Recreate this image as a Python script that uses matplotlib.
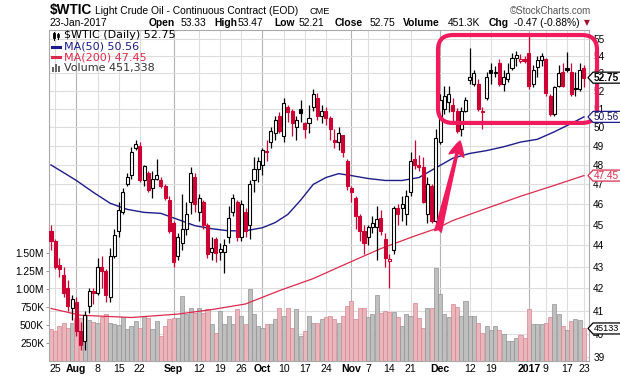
"""Recreate the StockCharts $WTIC daily candlestick chart (Jul 2016 - Jan 2017)."""

import numpy as np
import pandas as pd
import matplotlib
matplotlib.use("Agg")
import matplotlib.pyplot as plt
from matplotlib.patches import Polygon, FancyBboxPatch, Rectangle
from matplotlib.lines import Line2D
from matplotlib.ticker import NullLocator
from matplotlib.transforms import IdentityTransform, blended_transform_factory

W, H = 620, 376

# ---- data --------------------------------------------------------------
START, END = "2016-07-22", "2017-01-23"
HOLIDAYS = ["2016-09-05", "2016-11-24", "2016-12-26", "2017-01-02", "2017-01-16"]
PREV_CLOSE = 44.75

OPEN = [44.7, 44.2, 43.1, 42.6, 42.0, 41.1, 41.4, 40.1, 39.7, 41.2,
        41.9, 41.8, 43.0, 42.8, 41.6, 43.5, 44.7, 45.6, 47.0, 47.5,
        48.9, 49.0, 47.2, 47.6, 46.8, 47.3, 47.2, 46.9, 46.2, 45.1,
        43.5, 44.1, 44.8, 46.1, 47.4, 45.6, 46.1, 45.0, 43.7, 44.3,
        43.7, 43.7, 44.4, 45.6, 46.1, 44.4, 45.6, 45.0, 47.2, 47.8,
        48.0, 48.75, 49.2, 49.7, 50.6, 49.5, 51.1, 50.9, 50.0, 51.0,
        50.2, 50.2, 51.1, 51.6, 50.6, 50.9, 50.5, 49.3, 49.2, 49.6,
        48.2, 46.8, 46.3, 45.4, 44.7, 44.4, 44.9, 44.9, 45.3, 44.3,
        43.25, 43.8, 45.8, 45.8, 45.5, 46.6, 48.3, 48.0, 47.9, 45.5,
        46.9, 45.2, 49.2, 51.0, 51.4, 51.2, 50.9, 49.9, 50.9, 52.6,
        52.4, 52.4, 50.8, 51.6, 53.2, 53.0, 53.6, 52.4, 52.7, 53.3,
        53.9, 53.7, 53.8, 54.2, 52.4, 53.35, 53.75, 53.8, 51.7, 50.7,
        52.3, 53.05, 53.3, 53.1, 52.15, 52.1, 53.33]
HIGH = [45.0, 44.3, 43.4, 43.0, 42.4, 41.7, 41.6, 40.5, 41.0, 42.0,
        42.0, 43.4, 43.5, 42.9, 43.9, 44.8, 46.1, 46.8, 47.6, 48.95,
        49.3, 49.2, 48.0, 47.7, 47.7, 48.3, 47.4, 47.0, 46.4, 45.2,
        44.6, 46.5, 46.1, 47.9, 47.6, 46.5, 46.2, 45.1, 44.4, 44.4,
        44.1, 44.3, 45.9, 46.5, 46.2, 46.2, 45.8, 47.2, 48.4, 48.4,
        48.9, 49.3, 50.0, 50.6, 50.8, 51.6, 51.2, 51.0, 50.6, 51.5,
        50.3, 51.2, 52.1, 51.9, 51.2, 51.1, 50.6, 49.9, 50.0, 49.6,
        48.3, 46.9, 46.4, 45.5, 45.0, 45.0, 45.4, 45.9, 45.7, 44.6,
        43.6, 45.9, 46.0, 46.4, 46.7, 48.7, 49.3, 48.5, 48.4, 47.4,
        47.0, 49.9, 51.8, 52.3, 52.3, 51.6, 51.05, 51.1, 51.65, 54.45,
        53.2, 52.7, 51.1, 53.1, 53.6, 53.4, 53.8, 53.2, 53.6, 54.2,
        54.3, 54.1, 54.0, 55.2, 53.5, 54.0, 54.2, 53.9, 51.8, 52.3,
        53.5, 53.6, 54.25, 53.6, 53.1, 53.6, 53.47]
LOW = [43.8, 42.9, 42.5, 41.6, 41.0, 40.6, 39.9, 39.3, 39.3, 40.9,
       41.3, 41.7, 42.0, 41.4, 41.4, 43.4, 44.4, 45.5, 46.9, 47.3,
       48.8, 47.1, 46.9, 46.6, 46.3, 47.2, 46.8, 46.2, 44.6, 43.0,
       43.3, 43.8, 44.5, 45.5, 45.6, 45.2, 44.8, 43.4, 43.3, 43.2,
       43.3, 42.7, 44.1, 45.4, 44.2, 44.2, 44.4, 44.3, 46.6, 47.1,
       47.5, 48.2, 48.9, 49.3, 49.7, 49.2, 50.3, 49.5, 49.3, 50.3,
       49.4, 49.7, 50.9, 50.4, 50.2, 50.1, 49.3, 48.9, 48.8, 48.4,
       46.7, 46.1, 44.8, 44.2, 43.6, 44.0, 44.6, 43.3, 44.5, 43.0,
       42.0, 43.6, 45.0, 45.2, 45.0, 46.4, 47.8, 47.7, 46.05, 45.1,
       45.1, 45.1, 49.1, 50.7, 50.8, 50.3, 49.7, 49.55, 50.8, 52.4,
       52.3, 50.9, 49.9, 51.5, 52.4, 52.8, 52.3, 52.0, 52.5, 53.2,
       53.4, 53.6, 53.6, 52.1, 52.2, 52.8, 53.4, 51.7, 50.6, 50.6,
       52.2, 52.2, 53.1, 51.7, 51.7, 52.0, 52.21]
CLOSE = [44.2, 43.0, 42.9, 41.8, 41.2, 41.5, 40.1, 39.5, 40.8, 41.9,
         41.8, 43.0, 42.8, 41.7, 43.5, 44.5, 45.7, 46.6, 47.4, 48.7,
         49.1, 47.2, 47.95, 46.7, 47.3, 47.5, 46.9, 46.3, 44.7, 43.2,
         44.4, 44.8, 45.5, 47.6, 46.0, 46.3, 45.0, 43.6, 43.9, 43.65,
         43.85, 44.0, 45.3, 46.3, 44.4, 46.0, 44.7, 47.0, 47.8, 48.2,
         48.8, 48.7, 49.8, 50.4, 49.8, 51.3, 50.8, 50.2, 50.4, 50.75,
         49.9, 50.5, 51.8, 50.6, 50.9, 50.5, 49.9, 49.2, 49.7, 48.7,
         46.9, 46.6, 45.4, 44.7, 44.1, 44.9, 45.1, 45.25, 44.7, 43.4,
         43.35, 45.8, 45.5, 46.0, 46.4, 48.2, 48.0, 47.9, 46.1, 47.0,
         45.2, 49.4, 51.5, 51.7, 51.8, 50.9, 49.8, 50.9, 51.5, 52.8,
         53.0, 51.0, 50.9, 52.8, 53.0, 53.1, 52.4, 52.8, 53.0, 53.9,
         54.05, 53.8, 53.7, 52.3, 53.2, 53.75, 54.0, 51.9, 50.7, 52.2,
         53.0, 52.3, 53.2, 51.8, 52.1, 53.2, 52.75]
# volume in thousands of contracts
VOLUME_K = [444, 417, 486, 532, 463, 532, 601, 601, 625, 570,
            546, 532, 611, 649, 532, 510, 496, 611, 444, 486,
            556, 463, 625, 601, 444, 556, 347, 486, 579, 601,
            601, 903, 653, 740, 671, 740, 671, 718, 514, 393,
            694, 514, 625, 510, 718, 625, 510, 996, 649, 486,
            463, 510, 510, 579, 732, 625, 732, 463, 718, 347,
            417, 625, 532, 532, 583, 611, 625, 583, 532, 625,
            764, 833, 579, 736, 736, 604, 653, 917, 671, 694,
            681, 674, 611, 486, 653, 625, 810, 597, 463, 740,
            740, 1296, 935, 657, 611, 788, 750, 625, 833, 625,
            625, 532, 393, 486, 426, 486, 426, 371, 278, 278,
            324, 361, 315, 718, 510, 510, 510, 532, 611, 788,
            649, 486, 426, 556, 579, 565, 451.338]

# moving averages sampled along the chart (trading-day index, value)
MA50_IDX = [0, 3, 6, 10, 14, 18, 22, 26, 30, 34, 38, 42, 46, 50, 53, 56, 59, 62,
            65, 68, 71, 75, 79, 83, 87, 91, 95, 99, 103, 107, 111, 115, 119, 123, 126]
MA50_VAL = [48.0, 47.6, 47.2, 46.6, 46.05, 45.75, 45.6, 45.55, 45.25, 44.95, 44.8,
            44.7, 44.7, 44.85, 45.1, 45.5, 46.2, 47.0, 47.35, 47.55, 47.45, 47.3,
            47.2, 47.2, 47.35, 47.85, 48.35, 48.6, 48.75, 48.95, 49.2, 49.35,
            49.75, 50.2, 50.56]
MA200_IDX = [0, 7, 19, 30, 38, 46, 54, 62, 70, 78, 86, 91, 95, 103, 111, 119, 126]
MA200_VAL = [41.1, 40.8, 40.7, 40.85, 41.05, 41.3, 41.9, 42.45, 43.15, 43.85,
             44.45, 44.8, 45.2, 45.8, 46.4, 46.95, 47.45]

TICK_DATES = ["2016-07-25", "2016-08-01", "2016-08-08", "2016-08-15", "2016-08-22",
              "2016-09-01", "2016-09-12", "2016-09-19", "2016-09-26", "2016-10-03",
              "2016-10-10", "2016-10-17", "2016-10-24", "2016-11-01", "2016-11-07",
              "2016-11-14", "2016-11-21", "2016-12-01", "2016-12-12", "2016-12-19",
              "2017-01-03", "2017-01-09", "2017-01-17", "2017-01-23"]
TICK_LABELS = ["25", "Aug", "8", "15", "22", "Sep", "12", "19", "26", "Oct", "10",
               "17", "24", "Nov", "7", "14", "21", "Dec", "12", "19", "2017", "9",
               "17", "23"]
MONTH_LABELS = {"Aug", "Sep", "Oct", "Nov", "Dec", "2017"}

PRICE_TICKS = list(range(39, 56))
VOL_TICKS = [250e3, 500e3, 750e3, 1.0e6, 1.25e6, 1.5e6]
VOL_TICK_LABELS = ["250K", "500K", "750K", "1.00M", "1.25M", "1.50M"]

# ---- style ---------------------------------------------------------------
RED = "#cc0033"
BLUE = "#1c1c8c"
MA200_RED = "#dd2a4c"
PINK = "#f01a5c"
GRID = "#dddddd"
GRID_MONTH = "#b4b4b4"
FRAME = "#a8a8a8"

plt.rcParams["font.family"] = ["Liberation Sans", "DejaVu Sans"]


def px(x, y):
    """Pixel position (top-left origin) -> figure fraction."""
    return x / W, 1 - y / H


fig = plt.figure(figsize=(W / 100, H / 100), dpi=100, facecolor="white")
rect = [49 / W, 1 - 361 / H, 540 / W, 331.5 / H]
ax_v = fig.add_axes(rect)
ax = fig.add_axes(rect, sharex=ax_v)
ax.patch.set_visible(False)

dates = pd.bdate_range(START, END)
dates = dates[~dates.isin(pd.to_datetime(HOLIDAYS))]
idx = np.arange(len(dates))
o, h, l, c = map(np.asarray, (OPEN, HIGH, LOW, CLOSE))
assert len(o) == len(h) == len(l) == len(c) == len(VOLUME_K) == len(dates)

prev = np.concatenate([[PREV_CLOSE], c[:-1]])
down = c < prev
filled = c < o

# ---- axes setup ------------------------------------------------------------
ax_v.set_xlim(-0.47, 127.2)
ax_v.set_ylim(0, 4.6e6)
ax.set_yscale("log")
ax.set_ylim(38.83, 55.57)

tick_idx = [int(np.where(dates == pd.Timestamp(d))[0][0]) for d in TICK_DATES]
ax_v.set_xticks(tick_idx)
ax_v.set_xticklabels(TICK_LABELS)
for lab in ax_v.get_xticklabels():
    if lab.get_text() in MONTH_LABELS:
        lab.set_fontweight("bold")
ax_v.tick_params(axis="x", length=0, pad=2.5, labelsize=7.6)
ax.tick_params(axis="x", which="both", length=0, labelbottom=False)

ax_v.set_yticks(VOL_TICKS)
ax_v.set_yticklabels(VOL_TICK_LABELS)
ax_v.tick_params(axis="y", length=2.5, width=0.6, pad=1, labelsize=7.4,
                 color="#888888")

ax.yaxis.tick_right()
ax.set_yticks(PRICE_TICKS)
ax.set_yticklabels([str(p) for p in PRICE_TICKS])
ax.yaxis.set_minor_locator(NullLocator())
ax.tick_params(axis="y", which="both", length=0, pad=3, labelsize=7.2)

for sp in ax_v.spines.values():
    sp.set_color(FRAME)
    sp.set_linewidth(0.8)
for sp in ax.spines.values():
    sp.set_visible(False)

# grid (behind the volume bars)
for i, lab in zip(tick_idx, TICK_LABELS):
    ax_v.axvline(i, color=GRID_MONTH if lab in MONTH_LABELS else GRID,
                 lw=0.8, zorder=0)
hgrid = blended_transform_factory(ax_v.transAxes, ax.transData)
for p in PRICE_TICKS:
    ax_v.plot([0, 1], [p, p], transform=hgrid, color=GRID, lw=0.8, zorder=0)

# ---- volume --------------------------------------------------------------
vol = np.asarray(VOLUME_K) * 1000
ax_v.bar(idx, vol, width=0.96,
         color=np.where(down, "#e9b6bc", "#bfbfbf"),
         edgecolor=np.where(down, "#d9848f", "#929292"),
         linewidth=0.5, zorder=2)

# ---- moving averages -------------------------------------------------------
ax.plot(MA50_IDX, MA50_VAL, color=BLUE, lw=1.0, zorder=2)
ax.plot(MA200_IDX, MA200_VAL, color=MA200_RED, lw=0.9, zorder=2)

# ---- candles ---------------------------------------------------------------
edge = np.where(down, RED, "black")
face = [e if f else "white" for e, f in zip(edge, filled)]
ax.vlines(idx, l, h, colors=edge, lw=0.9, zorder=3)
ax.bar(idx, np.maximum(np.abs(c - o), 0.05), bottom=np.minimum(o, c),
       width=0.72, color=face, edgecolor=edge, linewidth=0.8, zorder=4)

# ---- pink call-out box and arrow --------------------------------------------
(bx0, by0), (bx1, by1) = ax.transData.transform([(91.5, 50.23), (129.1, 55.24)])
fig.add_artist(FancyBboxPatch((bx0, by0), bx1 - bx0, by1 - by0,
                              boxstyle="round,pad=0,rounding_size=15",
                              transform=IdentityTransform(), fill=False,
                              ec=PINK, lw=3.0, zorder=10))
ax.annotate("", xy=(96.7, 49.26), xytext=(91.5, 44.67),
            arrowprops=dict(arrowstyle="fancy,head_length=0.9,head_width=0.9,tail_width=0.4",
                            fc=PINK, ec=PINK, mutation_scale=12,
                            shrinkA=0, shrinkB=0),
            zorder=10, annotation_clip=False)

# ---- value tags on the right axis --------------------------------------------
x_tip = ax.transAxes.transform((1, 0))[0] - 1


def tag(y_disp, text, ec, tc, bold=False, size=7.2):
    pts = [(x_tip, y_disp), (x_tip + 5, y_disp + 5.5), (W + 2, y_disp + 5.5),
           (W + 2, y_disp - 5.5), (x_tip + 5, y_disp - 5.5)]
    fig.add_artist(Polygon(pts, closed=True, fc="white", ec=ec, lw=0.9,
                           transform=IdentityTransform(), zorder=11))
    fig.text(x_tip + 6, y_disp, text, transform=IdentityTransform(), ha="left",
             va="center", fontsize=size, color=tc,
             fontweight="bold" if bold else "normal", zorder=12)


tag(ax.transData.transform((0, c[-1]))[1], f"{c[-1]:.2f}", "black", "black", True)
tag(ax.transData.transform((0, MA50_VAL[-1]))[1], f"{MA50_VAL[-1]:.2f}", BLUE, "#10105a")
tag(ax.transData.transform((0, MA200_VAL[-1]))[1], f"{MA200_VAL[-1]:.2f}", MA200_RED, MA200_RED)
tag(ax_v.transData.transform((0, vol[-1]))[1], "45133", "black", "black", size=6.6)

# ---- header ------------------------------------------------------------------
fig.text(*px(50, 10), "$WTIC", fontsize=9.8, fontweight="bold", va="center")
fig.text(*px(95, 10.5), "Light Crude Oil - Continuous Contract (EOD)", fontsize=7.4,
         va="center")
fig.text(*px(310, 11), "CME", fontsize=6.6, va="center")
fig.text(*px(591, 10.5), "\u00a9StockCharts.com", fontsize=7, va="center",
         ha="right", color="#555555")

line2 = [(50, "23-Jan-2017", False), (149, "Open", True), (181, "53.33", False),
         (214, "High", True), (238, "53.47", False), (274, "Low", True),
         (299, "52.21", False), (335, "Close", True), (370, "52.75", False),
         (403, "Volume", True), (448, "451.3K", False), (489, "Chg", True),
         (514, "-0.47 (-0.88%)", False)]
for x, s, b in line2:
    fig.text(*px(x, 23), s, fontsize=7.4, va="center",
             fontweight="bold" if b else "normal")
fig.text(*px(584, 23), "\u25bc", fontsize=5.5, va="center", color="#a0102a",
         family=["DejaVu Sans"])

# ---- in-plot legend ------------------------------------------------------------
leg_font = dict(fontsize=8.0, va="center", family=["DejaVu Sans"])
fig.text(*px(64, 35.5), "$WTIC (Daily) 52.75", color="black", **leg_font)
fig.text(*px(64, 46.5), "MA(50) 50.56", color=BLUE, **leg_font)
fig.text(*px(64, 57), "MA(200) 47.45", color=MA200_RED, **leg_font)
fig.text(*px(64, 67.5), "Volume 451,338", color="#333333", **leg_font)

# legend icons, drawn in pixel space
for x0, x1, color, y in [(52, 60, BLUE, 46.5), (52, 60, MA200_RED, 57)]:
    fig.add_artist(Line2D([x0, x1], [H - y, H - y], color=color, lw=2.2,
                          transform=IdentityTransform()))
for xc, yt, yb, fc in [(54, 31.5, 39.5, "black"), (58, 32.5, 38.5, "white")]:
    fig.add_artist(Line2D([xc, xc], [H - yt, H - yb], color="black", lw=0.8,
                          transform=IdentityTransform()))
    fig.add_artist(Rectangle((xc - 1.3, H - yb + 1.5), 2.6, yb - yt - 3,
                             fc=fc, ec="black", lw=0.6,
                             transform=IdentityTransform()))
for xl, hgt in [(52, 5), (54.8, 8), (57.6, 6)]:
    fig.add_artist(Rectangle((xl, H - 71.5), 2.2, hgt, fc="#666666", ec="none",
                             transform=IdentityTransform()))

fig.savefig("out.png", dpi=100, facecolor="white")
print("saved out.png")
